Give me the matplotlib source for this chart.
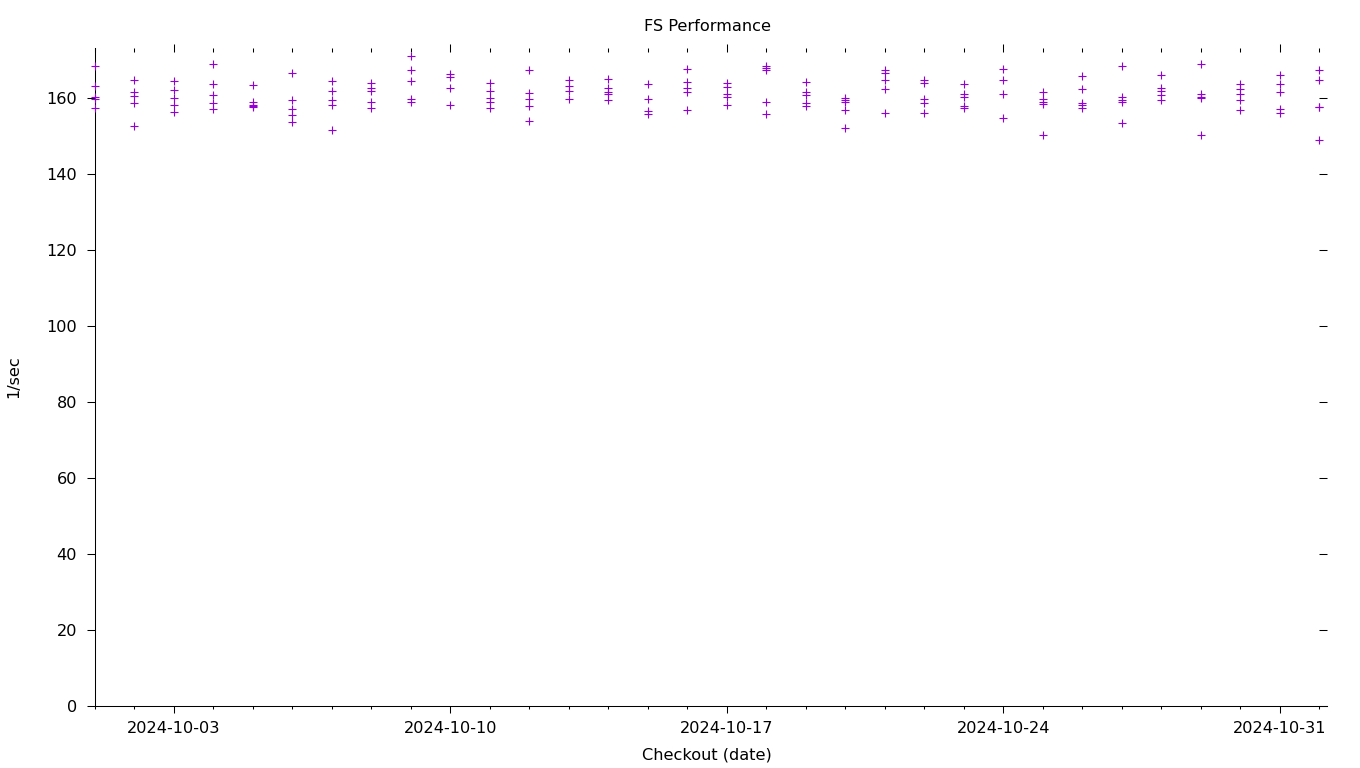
"""FS Performance: checkout rate per day (gnuplot-like look)."""

from datetime import datetime, timedelta

import matplotlib

matplotlib.use("Agg")
import matplotlib.dates as mdates
import matplotlib.pyplot as plt
from matplotlib.ticker import MultipleLocator, NullFormatter

checkout_dates = [
    "2024-10-01", "2024-10-02", "2024-10-03", "2024-10-04", "2024-10-05",
    "2024-10-06", "2024-10-07", "2024-10-08", "2024-10-09", "2024-10-10",
    "2024-10-11", "2024-10-12", "2024-10-13", "2024-10-14", "2024-10-15",
    "2024-10-16", "2024-10-17", "2024-10-18", "2024-10-19", "2024-10-20",
    "2024-10-21", "2024-10-22", "2024-10-23", "2024-10-24", "2024-10-25",
    "2024-10-26", "2024-10-27", "2024-10-28", "2024-10-29", "2024-10-30",
    "2024-10-31", "2024-11-01",
]

# runs per checkout day (1/sec)
rates = [
    [168.4, 163.1, 160.2, 159.9, 157.3],
    [164.7, 161.7, 160.6, 158.6, 152.8],
    [164.4, 162.2, 160.0, 158.1, 156.4],
    [168.9, 163.6, 160.7, 158.7, 157.2],
    [163.4, 159.1, 158.3, 158.0, 157.6],
    [166.6, 159.5, 157.1, 155.5, 153.6],
    [164.4, 161.8, 159.5, 158.3, 151.6],
    [164.0, 162.7, 161.8, 159.0, 157.4],
    [171.2, 167.3, 164.4, 159.7, 158.9],
    [166.4, 165.5, 162.8, 158.1],
    [164.0, 161.9, 160.0, 159.1, 157.4],
    [167.3, 161.4, 159.9, 158.0, 154.1],
    [164.7, 163.2, 161.9, 159.9],
    [165.1, 162.8, 161.7, 161.2, 159.6],
    [163.7, 159.7, 156.6, 155.9],
    [167.6, 164.2, 162.8, 161.7, 156.8],
    [164.1, 163.0, 161.2, 160.2, 158.1],
    [168.4, 167.9, 167.3, 158.9, 155.7],
    [164.2, 161.7, 160.7, 158.7, 158.0],
    [160.1, 159.6, 159.0, 156.9, 152.2],
    [167.5, 166.5, 164.8, 162.3, 156.1],
    [164.7, 164.1, 159.7, 158.8, 156.0],
    [163.6, 161.0, 160.3, 157.9, 157.4],
    [167.8, 164.8, 161.0, 154.9],
    [161.6, 159.9, 158.9, 158.5, 150.2],
    [165.8, 162.5, 158.8, 158.1, 157.3],
    [168.4, 160.3, 159.4, 158.9, 153.4],
    [166.1, 162.6, 162.0, 160.8, 159.6],
    [168.9, 161.0, 160.3, 160.1, 150.4],
    [163.8, 162.4, 161.1, 159.4, 157.0],
    [166.1, 163.6, 161.5, 157.1, 156.0],
    [167.4, 164.8, 157.8, 157.6, 149.1],
]

xs, ys = [], []
for day, vals in zip(checkout_dates, rates):
    d = datetime.strptime(day, "%Y-%m-%d")
    for v in vals:
        xs.append(d)
        ys.append(v)

plt.rcParams["font.family"] = ["DejaVu Sans"]
plt.rcParams["font.size"] = 11.6

fig = plt.figure(figsize=(13.6, 7.68), dpi=100)
ax = fig.add_axes([95 / 1360, 62 / 768, 1232 / 1360, 658 / 768])

ax.plot(xs, ys, "+", color="#9400d3", markersize=6, markeredgewidth=0.8,
        clip_on=False, zorder=3)

start = datetime(2024, 10, 1)
ax.set_xlim(start, start + timedelta(days=31.19))
ax.set_ylim(0, 173.2)

for side in ("top", "right"):
    ax.spines[side].set_visible(False)
for side in ("left", "bottom"):
    ax.spines[side].set_linewidth(0.75)

week = mdates.DayLocator(bymonthday=[3, 10, 17, 24, 31])
ax.xaxis.set_major_locator(week)
ax.xaxis.set_minor_locator(mdates.DayLocator())
ax.xaxis.set_major_formatter(mdates.DateFormatter("%Y-%m-%d"))
ax.yaxis.set_major_locator(MultipleLocator(20))

ax.tick_params(axis="x", which="major", direction="out", length=5, width=0.75, pad=6)
ax.tick_params(axis="x", which="minor", direction="out", length=2.5, width=0.75)
ax.tick_params(axis="y", which="major", direction="out", length=6, width=0.75, pad=7)

# mirrored ticks on top and right, without axis lines
top = ax.secondary_xaxis("top")
top.spines["top"].set_visible(False)
top.xaxis.set_major_locator(mdates.DayLocator(bymonthday=[3, 10, 17, 24, 31]))
top.xaxis.set_minor_locator(mdates.DayLocator())
top.xaxis.set_major_formatter(NullFormatter())
top.tick_params(which="major", direction="inout", length=6, width=0.75)
top.tick_params(which="minor", direction="in", length=3, width=0.75)

right = ax.secondary_yaxis("right")
right.spines["right"].set_visible(False)
right.yaxis.set_major_locator(MultipleLocator(20))
right.yaxis.set_major_formatter(NullFormatter())
right.tick_params(direction="in", length=6, width=0.75)

cx = (707 - 95) / 1232
ax.set_title("FS Performance", fontsize=11.6, x=cx, y=(706 - 31) / 658, pad=0)
ax.set_xlabel("Checkout (date)", fontsize=11.6)
ax.xaxis.set_label_coords(cx, (706 - 747) / 658)
ax.set_ylabel("1/sec", fontsize=11.6)
ax.yaxis.set_label_coords((21 - 95) / 1232, 0.5)

fig.savefig("out.png", dpi=100)
plt.close(fig)
